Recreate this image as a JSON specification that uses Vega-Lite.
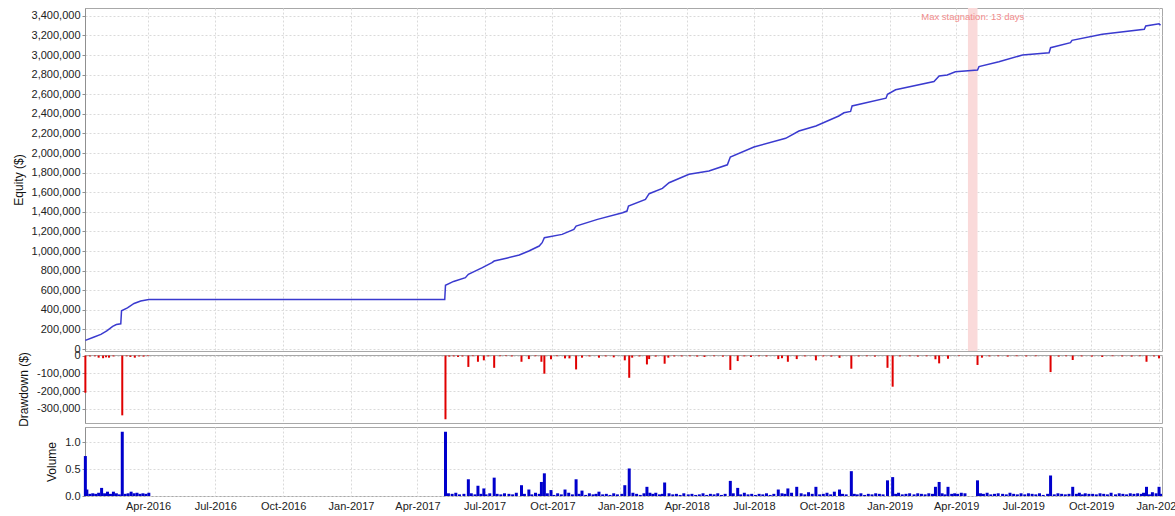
{
  "$schema": "https://vega.github.io/schema/vega-lite/v6.json",
  "background": "white",
  "padding": {"left": 11, "top": 7, "right": 0, "bottom": 0},
  "spacing": 4,
  "bounds": "flush",
  "config": {
    "font": "Liberation Sans",
    "view": {"stroke": "#a8a8a8", "strokeWidth": 1},
    "axis": {
      "labelFont": "Liberation Sans", "labelFontSize": 11, "labelColor": "#222", "labelOverlap": false,
      "titleFont": "Liberation Sans", "titleFontSize": 12, "titleFontWeight": "normal", "titleColor": "#111",
      "gridColor": "#dadada", "gridDash": [2, 2], "gridWidth": 1,
      "domainColor": "#909090", "tickColor": "#909090", "tickSize": 3
    }
  },
  "datasets": {
    "stag": [
      {"start": "2019-04-17", "end": "2019-04-30", "mid": "2019-04-23T12:00:00Z", "level": 3390000, "label": "Max stagnation: 13 days"}
    ],
    "equity": [
      {"date": "2016-01-07", "equity": 88000},
      {"date": "2016-01-18", "equity": 120000},
      {"date": "2016-01-28", "equity": 150000},
      {"date": "2016-02-05", "equity": 185000},
      {"date": "2016-02-13", "equity": 232000},
      {"date": "2016-02-18", "equity": 250000},
      {"date": "2016-02-24", "equity": 258000},
      {"date": "2016-02-25", "equity": 390000},
      {"date": "2016-03-04", "equity": 420000},
      {"date": "2016-03-13", "equity": 465000},
      {"date": "2016-03-22", "equity": 490000},
      {"date": "2016-04-02", "equity": 505000},
      {"date": "2017-05-08", "equity": 505000},
      {"date": "2017-05-09", "equity": 650000},
      {"date": "2017-05-20", "equity": 690000},
      {"date": "2017-06-05", "equity": 728000},
      {"date": "2017-06-09", "equity": 762000},
      {"date": "2017-06-28", "equity": 830000},
      {"date": "2017-07-11", "equity": 881000},
      {"date": "2017-07-14", "equity": 898000},
      {"date": "2017-08-01", "equity": 930000},
      {"date": "2017-08-17", "equity": 959000},
      {"date": "2017-08-30", "equity": 1000000},
      {"date": "2017-09-13", "equity": 1051000},
      {"date": "2017-09-17", "equity": 1085000},
      {"date": "2017-09-20", "equity": 1136000},
      {"date": "2017-10-14", "equity": 1170000},
      {"date": "2017-10-30", "equity": 1221000},
      {"date": "2017-11-02", "equity": 1255000},
      {"date": "2017-12-01", "equity": 1323000},
      {"date": "2018-01-04", "equity": 1391000},
      {"date": "2018-01-10", "equity": 1408000},
      {"date": "2018-01-12", "equity": 1459000},
      {"date": "2018-02-04", "equity": 1527000},
      {"date": "2018-02-09", "equity": 1585000},
      {"date": "2018-02-27", "equity": 1640000},
      {"date": "2018-03-08", "equity": 1697000},
      {"date": "2018-04-04", "equity": 1783000},
      {"date": "2018-05-01", "equity": 1816000},
      {"date": "2018-05-26", "equity": 1880000},
      {"date": "2018-05-30", "equity": 1959000},
      {"date": "2018-07-01", "equity": 2061000},
      {"date": "2018-08-13", "equity": 2150000},
      {"date": "2018-08-31", "equity": 2225000},
      {"date": "2018-09-23", "equity": 2276000},
      {"date": "2018-10-24", "equity": 2378000},
      {"date": "2018-10-31", "equity": 2411000},
      {"date": "2018-11-09", "equity": 2425000},
      {"date": "2018-11-11", "equity": 2480000},
      {"date": "2018-12-27", "equity": 2560000},
      {"date": "2018-12-29", "equity": 2600000},
      {"date": "2019-01-09", "equity": 2645000},
      {"date": "2019-03-02", "equity": 2730000},
      {"date": "2019-03-09", "equity": 2786000},
      {"date": "2019-03-20", "equity": 2796000},
      {"date": "2019-03-31", "equity": 2830000},
      {"date": "2019-04-30", "equity": 2848000},
      {"date": "2019-05-02", "equity": 2882000},
      {"date": "2019-05-29", "equity": 2932000},
      {"date": "2019-06-30", "equity": 3000000},
      {"date": "2019-08-05", "equity": 3024000},
      {"date": "2019-08-07", "equity": 3075000},
      {"date": "2019-09-03", "equity": 3126000},
      {"date": "2019-09-05", "equity": 3150000},
      {"date": "2019-10-16", "equity": 3211000},
      {"date": "2019-12-12", "equity": 3262000},
      {"date": "2019-12-14", "equity": 3296000},
      {"date": "2020-01-01", "equity": 3319000},
      {"date": "2020-01-03", "equity": 3303000}
    ],
    "dd": [
      {"date": "2016-01-07", "drawdown": -209000},
      {"date": "2016-01-13", "drawdown": -5000},
      {"date": "2016-01-20", "drawdown": -4000},
      {"date": "2016-01-25", "drawdown": -12000},
      {"date": "2016-01-31", "drawdown": -15000},
      {"date": "2016-02-04", "drawdown": -10000},
      {"date": "2016-02-08", "drawdown": -12000},
      {"date": "2016-02-14", "drawdown": -5000},
      {"date": "2016-02-26", "drawdown": -336000},
      {"date": "2016-03-03", "drawdown": -4000},
      {"date": "2016-03-08", "drawdown": -8000},
      {"date": "2016-03-14", "drawdown": -12000},
      {"date": "2016-03-20", "drawdown": -5000},
      {"date": "2016-03-26", "drawdown": -6000},
      {"date": "2016-04-01", "drawdown": -3000},
      {"date": "2017-05-09", "drawdown": -358000},
      {"date": "2017-05-14", "drawdown": -6000},
      {"date": "2017-05-20", "drawdown": -5000},
      {"date": "2017-05-26", "drawdown": -8000},
      {"date": "2017-06-01", "drawdown": -5000},
      {"date": "2017-06-09", "drawdown": -64000},
      {"date": "2017-06-15", "drawdown": -4000},
      {"date": "2017-06-22", "drawdown": -35000},
      {"date": "2017-06-30", "drawdown": -27000},
      {"date": "2017-07-06", "drawdown": -5000},
      {"date": "2017-07-14", "drawdown": -69000},
      {"date": "2017-07-22", "drawdown": -4000},
      {"date": "2017-07-30", "drawdown": -3000},
      {"date": "2017-08-07", "drawdown": -5000},
      {"date": "2017-08-20", "drawdown": -35000},
      {"date": "2017-08-30", "drawdown": -20000},
      {"date": "2017-09-08", "drawdown": -4000},
      {"date": "2017-09-16", "drawdown": -35000},
      {"date": "2017-09-20", "drawdown": -102000},
      {"date": "2017-09-29", "drawdown": -21000},
      {"date": "2017-10-07", "drawdown": -4000},
      {"date": "2017-10-18", "drawdown": -16000},
      {"date": "2017-10-24", "drawdown": -16000},
      {"date": "2017-11-02", "drawdown": -78000},
      {"date": "2017-11-10", "drawdown": -12000},
      {"date": "2017-11-20", "drawdown": -5000},
      {"date": "2017-12-03", "drawdown": -12000},
      {"date": "2017-12-12", "drawdown": -5000},
      {"date": "2017-12-23", "drawdown": -10000},
      {"date": "2018-01-07", "drawdown": -27000},
      {"date": "2018-01-13", "drawdown": -125000},
      {"date": "2018-01-17", "drawdown": -12000},
      {"date": "2018-01-27", "drawdown": -5000},
      {"date": "2018-02-06", "drawdown": -50000},
      {"date": "2018-02-09", "drawdown": -20000},
      {"date": "2018-02-18", "drawdown": -6000},
      {"date": "2018-03-02", "drawdown": -46000},
      {"date": "2018-03-07", "drawdown": -12000},
      {"date": "2018-03-15", "drawdown": -5000},
      {"date": "2018-03-25", "drawdown": -5000},
      {"date": "2018-04-05", "drawdown": -4000},
      {"date": "2018-04-15", "drawdown": -6000},
      {"date": "2018-04-25", "drawdown": -8000},
      {"date": "2018-05-08", "drawdown": -4000},
      {"date": "2018-05-20", "drawdown": -6000},
      {"date": "2018-05-30", "drawdown": -81000},
      {"date": "2018-06-09", "drawdown": -31000},
      {"date": "2018-06-18", "drawdown": -5000},
      {"date": "2018-06-27", "drawdown": -8000},
      {"date": "2018-07-08", "drawdown": -4000},
      {"date": "2018-07-18", "drawdown": -5000},
      {"date": "2018-08-03", "drawdown": -20000},
      {"date": "2018-08-08", "drawdown": -15000},
      {"date": "2018-08-16", "drawdown": -35000},
      {"date": "2018-08-28", "drawdown": -20000},
      {"date": "2018-09-08", "drawdown": -5000},
      {"date": "2018-09-23", "drawdown": -27000},
      {"date": "2018-10-03", "drawdown": -5000},
      {"date": "2018-10-14", "drawdown": -6000},
      {"date": "2018-10-25", "drawdown": -13000},
      {"date": "2018-11-10", "drawdown": -74000},
      {"date": "2018-11-20", "drawdown": -5000},
      {"date": "2018-12-01", "drawdown": -4000},
      {"date": "2018-12-12", "drawdown": -6000},
      {"date": "2018-12-29", "drawdown": -69000},
      {"date": "2019-01-05", "drawdown": -175000},
      {"date": "2019-01-15", "drawdown": -5000},
      {"date": "2019-01-28", "drawdown": -4000},
      {"date": "2019-02-08", "drawdown": -6000},
      {"date": "2019-02-20", "drawdown": -4000},
      {"date": "2019-03-04", "drawdown": -21000},
      {"date": "2019-03-09", "drawdown": -44000},
      {"date": "2019-03-21", "drawdown": -18000},
      {"date": "2019-04-05", "drawdown": -3000},
      {"date": "2019-04-30", "drawdown": -53000},
      {"date": "2019-05-06", "drawdown": -12000},
      {"date": "2019-05-16", "drawdown": -5000},
      {"date": "2019-05-28", "drawdown": -4000},
      {"date": "2019-06-10", "drawdown": -6000},
      {"date": "2019-06-22", "drawdown": -4000},
      {"date": "2019-07-05", "drawdown": -5000},
      {"date": "2019-07-18", "drawdown": -4000},
      {"date": "2019-08-07", "drawdown": -93000},
      {"date": "2019-08-18", "drawdown": -6000},
      {"date": "2019-08-28", "drawdown": -4000},
      {"date": "2019-09-06", "drawdown": -25000},
      {"date": "2019-09-18", "drawdown": -5000},
      {"date": "2019-10-02", "drawdown": -6000},
      {"date": "2019-10-16", "drawdown": -8000},
      {"date": "2019-10-30", "drawdown": -4000},
      {"date": "2019-11-12", "drawdown": -5000},
      {"date": "2019-11-25", "drawdown": -6000},
      {"date": "2019-12-06", "drawdown": -4000},
      {"date": "2019-12-15", "drawdown": -35000},
      {"date": "2019-12-25", "drawdown": -5000},
      {"date": "2020-01-01", "drawdown": -16000}
    ],
    "vol": [
      {"date": "2016-01-07", "volume": 0.74},
      {"date": "2016-01-09", "volume": 0.12},
      {"date": "2016-01-13", "volume": 0.04},
      {"date": "2016-01-17", "volume": 0.05},
      {"date": "2016-01-21", "volume": 0.04},
      {"date": "2016-01-25", "volume": 0.06},
      {"date": "2016-01-29", "volume": 0.15},
      {"date": "2016-02-02", "volume": 0.05},
      {"date": "2016-02-06", "volume": 0.08},
      {"date": "2016-02-10", "volume": 0.04},
      {"date": "2016-02-14", "volume": 0.08},
      {"date": "2016-02-18", "volume": 0.05},
      {"date": "2016-02-22", "volume": 0.03},
      {"date": "2016-02-26", "volume": 1.19},
      {"date": "2016-03-01", "volume": 0.04},
      {"date": "2016-03-05", "volume": 0.05},
      {"date": "2016-03-09", "volume": 0.08},
      {"date": "2016-03-13", "volume": 0.05},
      {"date": "2016-03-17", "volume": 0.06},
      {"date": "2016-03-21", "volume": 0.04},
      {"date": "2016-03-25", "volume": 0.05},
      {"date": "2016-03-29", "volume": 0.04},
      {"date": "2016-04-02", "volume": 0.06},
      {"date": "2017-05-09", "volume": 1.19},
      {"date": "2017-05-13", "volume": 0.05},
      {"date": "2017-05-18", "volume": 0.04},
      {"date": "2017-05-23", "volume": 0.06},
      {"date": "2017-05-28", "volume": 0.03},
      {"date": "2017-06-03", "volume": 0.04},
      {"date": "2017-06-09", "volume": 0.31},
      {"date": "2017-06-13", "volume": 0.05},
      {"date": "2017-06-18", "volume": 0.03},
      {"date": "2017-06-22", "volume": 0.19},
      {"date": "2017-06-26", "volume": 0.04},
      {"date": "2017-06-30", "volume": 0.14},
      {"date": "2017-07-03", "volume": 0.03},
      {"date": "2017-07-08", "volume": 0.05},
      {"date": "2017-07-14", "volume": 0.34},
      {"date": "2017-07-18", "volume": 0.04},
      {"date": "2017-07-23", "volume": 0.03},
      {"date": "2017-07-28", "volume": 0.05},
      {"date": "2017-08-03", "volume": 0.04},
      {"date": "2017-08-08", "volume": 0.03},
      {"date": "2017-08-13", "volume": 0.06},
      {"date": "2017-08-20", "volume": 0.2},
      {"date": "2017-08-24", "volume": 0.04},
      {"date": "2017-08-30", "volume": 0.12},
      {"date": "2017-09-03", "volume": 0.03},
      {"date": "2017-09-08", "volume": 0.06},
      {"date": "2017-09-13", "volume": 0.04},
      {"date": "2017-09-16", "volume": 0.26},
      {"date": "2017-09-20", "volume": 0.42},
      {"date": "2017-09-24", "volume": 0.05},
      {"date": "2017-09-29", "volume": 0.11},
      {"date": "2017-10-03", "volume": 0.02},
      {"date": "2017-10-08", "volume": 0.05},
      {"date": "2017-10-13", "volume": 0.03},
      {"date": "2017-10-18", "volume": 0.12},
      {"date": "2017-10-23", "volume": 0.06},
      {"date": "2017-10-28", "volume": 0.03},
      {"date": "2017-11-02", "volume": 0.31},
      {"date": "2017-11-06", "volume": 0.04},
      {"date": "2017-11-10", "volume": 0.1},
      {"date": "2017-11-15", "volume": 0.02},
      {"date": "2017-11-20", "volume": 0.05},
      {"date": "2017-11-25", "volume": 0.03},
      {"date": "2017-11-29", "volume": 0.04},
      {"date": "2017-12-03", "volume": 0.08},
      {"date": "2017-12-08", "volume": 0.03},
      {"date": "2017-12-13", "volume": 0.04},
      {"date": "2017-12-18", "volume": 0.02},
      {"date": "2017-12-23", "volume": 0.05},
      {"date": "2017-12-28", "volume": 0.03},
      {"date": "2018-01-03", "volume": 0.04},
      {"date": "2018-01-07", "volume": 0.2},
      {"date": "2018-01-13", "volume": 0.51},
      {"date": "2018-01-18", "volume": 0.06},
      {"date": "2018-01-23", "volume": 0.04},
      {"date": "2018-01-28", "volume": 0.02},
      {"date": "2018-02-02", "volume": 0.05},
      {"date": "2018-02-06", "volume": 0.17},
      {"date": "2018-02-10", "volume": 0.06},
      {"date": "2018-02-14", "volume": 0.04},
      {"date": "2018-02-18", "volume": 0.06},
      {"date": "2018-02-23", "volume": 0.03},
      {"date": "2018-02-27", "volume": 0.04},
      {"date": "2018-03-02", "volume": 0.25},
      {"date": "2018-03-08", "volume": 0.05},
      {"date": "2018-03-13", "volume": 0.03},
      {"date": "2018-03-18", "volume": 0.04},
      {"date": "2018-03-23", "volume": 0.02},
      {"date": "2018-03-28", "volume": 0.05},
      {"date": "2018-04-03", "volume": 0.03},
      {"date": "2018-04-08", "volume": 0.04},
      {"date": "2018-04-13", "volume": 0.02},
      {"date": "2018-04-18", "volume": 0.03},
      {"date": "2018-04-23", "volume": 0.05},
      {"date": "2018-04-28", "volume": 0.02},
      {"date": "2018-05-03", "volume": 0.04},
      {"date": "2018-05-08", "volume": 0.03},
      {"date": "2018-05-13", "volume": 0.05},
      {"date": "2018-05-18", "volume": 0.02},
      {"date": "2018-05-23", "volume": 0.04},
      {"date": "2018-05-30", "volume": 0.28},
      {"date": "2018-06-03", "volume": 0.05},
      {"date": "2018-06-09", "volume": 0.15},
      {"date": "2018-06-13", "volume": 0.03},
      {"date": "2018-06-18", "volume": 0.06},
      {"date": "2018-06-23", "volume": 0.03},
      {"date": "2018-06-28", "volume": 0.04},
      {"date": "2018-07-03", "volume": 0.02},
      {"date": "2018-07-08", "volume": 0.04},
      {"date": "2018-07-13", "volume": 0.03},
      {"date": "2018-07-18", "volume": 0.05},
      {"date": "2018-07-23", "volume": 0.02},
      {"date": "2018-07-28", "volume": 0.04},
      {"date": "2018-08-03", "volume": 0.12},
      {"date": "2018-08-08", "volume": 0.05},
      {"date": "2018-08-12", "volume": 0.04},
      {"date": "2018-08-16", "volume": 0.14},
      {"date": "2018-08-21", "volume": 0.06},
      {"date": "2018-08-28", "volume": 0.17},
      {"date": "2018-09-03", "volume": 0.05},
      {"date": "2018-09-08", "volume": 0.03},
      {"date": "2018-09-13", "volume": 0.07},
      {"date": "2018-09-18", "volume": 0.04},
      {"date": "2018-09-23", "volume": 0.17},
      {"date": "2018-09-28", "volume": 0.03},
      {"date": "2018-10-03", "volume": 0.04},
      {"date": "2018-10-08", "volume": 0.06},
      {"date": "2018-10-13", "volume": 0.03},
      {"date": "2018-10-18", "volume": 0.08},
      {"date": "2018-10-25", "volume": 0.12},
      {"date": "2018-10-29", "volume": 0.04},
      {"date": "2018-11-03", "volume": 0.03},
      {"date": "2018-11-10", "volume": 0.46},
      {"date": "2018-11-14", "volume": 0.04},
      {"date": "2018-11-18", "volume": 0.03},
      {"date": "2018-11-23", "volume": 0.05},
      {"date": "2018-11-28", "volume": 0.02},
      {"date": "2018-12-03", "volume": 0.04},
      {"date": "2018-12-08", "volume": 0.03},
      {"date": "2018-12-13", "volume": 0.05},
      {"date": "2018-12-18", "volume": 0.04},
      {"date": "2018-12-23", "volume": 0.03},
      {"date": "2018-12-29", "volume": 0.29},
      {"date": "2019-01-05", "volume": 0.35},
      {"date": "2019-01-09", "volume": 0.04},
      {"date": "2019-01-13", "volume": 0.06},
      {"date": "2019-01-18", "volume": 0.03},
      {"date": "2019-01-23", "volume": 0.04},
      {"date": "2019-01-28", "volume": 0.05},
      {"date": "2019-02-03", "volume": 0.03},
      {"date": "2019-02-08", "volume": 0.05},
      {"date": "2019-02-13", "volume": 0.04},
      {"date": "2019-02-18", "volume": 0.03},
      {"date": "2019-02-23", "volume": 0.05},
      {"date": "2019-02-28", "volume": 0.04},
      {"date": "2019-03-04", "volume": 0.17},
      {"date": "2019-03-09", "volume": 0.26},
      {"date": "2019-03-13", "volume": 0.05},
      {"date": "2019-03-17", "volume": 0.03},
      {"date": "2019-03-21", "volume": 0.17},
      {"date": "2019-03-26", "volume": 0.04},
      {"date": "2019-03-30", "volume": 0.05},
      {"date": "2019-04-03", "volume": 0.04},
      {"date": "2019-04-08", "volume": 0.06},
      {"date": "2019-04-13", "volume": 0.05},
      {"date": "2019-04-30", "volume": 0.29},
      {"date": "2019-05-04", "volume": 0.05},
      {"date": "2019-05-08", "volume": 0.04},
      {"date": "2019-05-13", "volume": 0.06},
      {"date": "2019-05-18", "volume": 0.03},
      {"date": "2019-05-23", "volume": 0.04},
      {"date": "2019-05-28", "volume": 0.05},
      {"date": "2019-06-03", "volume": 0.04},
      {"date": "2019-06-08", "volume": 0.03},
      {"date": "2019-06-13", "volume": 0.06},
      {"date": "2019-06-18", "volume": 0.04},
      {"date": "2019-06-23", "volume": 0.03},
      {"date": "2019-06-28", "volume": 0.05},
      {"date": "2019-07-03", "volume": 0.03},
      {"date": "2019-07-08", "volume": 0.05},
      {"date": "2019-07-13", "volume": 0.04},
      {"date": "2019-07-18", "volume": 0.03},
      {"date": "2019-07-23", "volume": 0.05},
      {"date": "2019-07-28", "volume": 0.02},
      {"date": "2019-08-03", "volume": 0.04},
      {"date": "2019-08-07", "volume": 0.38},
      {"date": "2019-08-12", "volume": 0.03},
      {"date": "2019-08-17", "volume": 0.05},
      {"date": "2019-08-22", "volume": 0.04},
      {"date": "2019-08-27", "volume": 0.03},
      {"date": "2019-09-01", "volume": 0.04},
      {"date": "2019-09-06", "volume": 0.17},
      {"date": "2019-09-11", "volume": 0.04},
      {"date": "2019-09-15", "volume": 0.06},
      {"date": "2019-09-19", "volume": 0.03},
      {"date": "2019-09-23", "volume": 0.05},
      {"date": "2019-09-28", "volume": 0.04},
      {"date": "2019-10-03", "volume": 0.04},
      {"date": "2019-10-08", "volume": 0.03},
      {"date": "2019-10-13", "volume": 0.05},
      {"date": "2019-10-18", "volume": 0.04},
      {"date": "2019-10-23", "volume": 0.03},
      {"date": "2019-10-28", "volume": 0.06},
      {"date": "2019-11-03", "volume": 0.03},
      {"date": "2019-11-08", "volume": 0.05},
      {"date": "2019-11-13", "volume": 0.04},
      {"date": "2019-11-18", "volume": 0.03},
      {"date": "2019-11-23", "volume": 0.05},
      {"date": "2019-11-28", "volume": 0.04},
      {"date": "2019-12-03", "volume": 0.05},
      {"date": "2019-12-08", "volume": 0.04},
      {"date": "2019-12-11", "volume": 0.06},
      {"date": "2019-12-15", "volume": 0.17},
      {"date": "2019-12-19", "volume": 0.03},
      {"date": "2019-12-23", "volume": 0.07},
      {"date": "2019-12-28", "volume": 0.05},
      {"date": "2020-01-01", "volume": 0.17},
      {"date": "2020-01-03", "volume": 0.04}
    ]
  },
  "vconcat": [
    {
      "width": 1077,
      "height": 343,
      "layer": [
        {
          "data": {"name": "stag"},
          "mark": {"type": "rect", "color": "#fadada"},
          "encoding": {
            "x": {"field": "start", "type": "temporal",
                  "scale": {"type": "utc", "domain": [{"year": 2016, "month": 1, "date": 6, "hours": 12, "utc": true}, {"year": 2020, "month": 1, "date": 5, "utc": true}], "nice": false, "padding": 0}},
            "x2": {"field": "end"}
          }
        },
        {
          "data": {"name": "equity"},
          "mark": {"type": "line", "color": "#3a3acf", "strokeWidth": 1.5},
          "encoding": {
            "x": {"field": "date", "type": "temporal",
                  "scale": {"type": "utc", "domain": [{"year": 2016, "month": 1, "date": 6, "hours": 12, "utc": true}, {"year": 2020, "month": 1, "date": 5, "utc": true}], "nice": false, "padding": 0},
                  "axis": {"title": null, "labels": false, "ticks": false, "domain": false, "grid": true, "tickCount": {"interval": "month", "step": 3}}},
            "y": {"field": "equity", "type": "quantitative",
                  "scale": {"domain": [-20000, 3480000], "nice": false, "zero": false, "padding": 0},
                  "axis": {"title": "Equity ($)", "titlePadding": 6, "labelOverlap": false, "tickCount": 20, "values": [0, 200000, 400000, 600000, 800000, 1000000, 1200000, 1400000, 1600000, 1800000, 2000000, 2200000, 2400000, 2600000, 2800000, 3000000, 3200000, 3400000], "format": ",d", "grid": true}}
          }
        },
        {
          "data": {"name": "stag"},
          "mark": {"type": "text", "color": "#f08c8c", "fontSize": 9.5, "font": "Liberation Sans", "baseline": "middle", "align": "center"},
          "encoding": {
            "x": {"field": "mid", "type": "temporal"},
            "y": {"field": "level", "type": "quantitative",
                  "axis": {"title": "Equity ($)", "titlePadding": 6, "labelOverlap": false, "tickCount": 20, "values": [0, 200000, 400000, 600000, 800000, 1000000, 1200000, 1400000, 1600000, 1800000, 2000000, 2200000, 2400000, 2600000, 2800000, 3000000, 3200000, 3400000], "format": ",d", "grid": true}},
            "text": {"field": "label"}
          }
        }
      ]
    },
    {
      "width": 1077,
      "height": 68,
      "data": {"name": "dd"},
      "mark": {"type": "bar", "color": "#e00000", "width": 2},
      "encoding": {
        "x": {"field": "date", "type": "temporal",
              "scale": {"type": "utc", "domain": [{"year": 2016, "month": 1, "date": 6, "hours": 12, "utc": true}, {"year": 2020, "month": 1, "date": 5, "utc": true}], "nice": false, "padding": 0},
              "axis": {"title": null, "labels": false, "ticks": false, "domain": false, "grid": true, "tickCount": {"interval": "month", "step": 3}}},
        "y": {"field": "drawdown", "type": "quantitative",
              "scale": {"domain": [-379000, 3000], "nice": false, "zero": false, "padding": 0},
              "axis": {"title": "Drawdown ($)", "titlePadding": 6, "labelOverlap": false, "tickCount": 10, "values": [-300000, -200000, -100000, 0], "grid": true,
                       "labelExpr": "datum.value < 0 ? '-' + format(-datum.value, ',d') : format(datum.value, ',d')"}}
      }
    },
    {
      "width": 1077,
      "height": 69,
      "data": {"name": "vol"},
      "mark": {"type": "bar", "color": "#0000cc", "width": 3},
      "encoding": {
        "x": {"field": "date", "type": "temporal",
              "scale": {"type": "utc", "domain": [{"year": 2016, "month": 1, "date": 6, "hours": 12, "utc": true}, {"year": 2020, "month": 1, "date": 5, "utc": true}], "nice": false, "padding": 0},
              "axis": {"title": null, "format": "%b-%Y", "ticks": false, "domain": false, "grid": true, "labelPadding": 4, "labelFlush": false, "tickCount": {"interval": "month", "step": 3}}},
        "y": {"field": "volume", "type": "quantitative",
              "scale": {"domain": [0, 1.278], "nice": false, "padding": 0},
              "axis": {"title": "Volume", "titlePadding": 6, "labelOverlap": false, "tickCount": 10, "values": [0, 0.5, 1], "format": ".1f", "grid": true}}
      }
    }
  ]
}
